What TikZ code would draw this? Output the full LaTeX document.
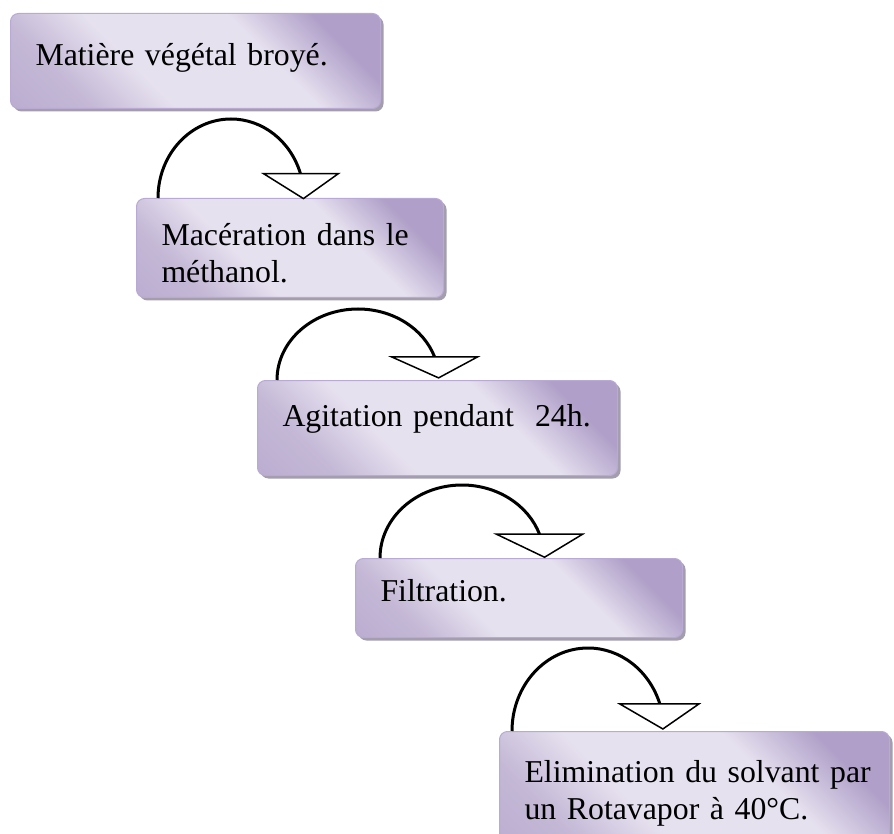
\documentclass[tikz,border=0pt]{standalone}
\usepackage{fontspec}
\setmainfont{Liberation Serif}
\usetikzlibrary{shadows}
\definecolor{boxlight}{RGB}{230,225,239}
\definecolor{boxmid}{RGB}{196,184,214}
\definecolor{boxdark}{RGB}{176,160,201}
\definecolor{boxedge}{RGB}{184,170,210}
\definecolor{boxshade}{RGB}{163,157,174}
\pgfdeclareverticalshading{stepshade}{100bp}{color(0bp)=(boxdark); color(27bp)=(boxmid); color(40bp)=(boxlight); color(62bp)=(boxlight); color(75bp)=(boxdark); color(100bp)=(boxdark)}
\tikzstyle{stepbox} = [draw=boxedge, line width=1pt, rounded corners=8pt, anchor=north west, align=left, inner xsep=25pt, inner ysep=0pt, shade, shading=stepshade, shading angle=-45, general shadow={fill=boxshade, shadow xshift=3pt, shadow yshift=-3pt}, font=\fontsize{31.8pt}{36.6pt}\selectfont]
\tikzstyle{turn} = [line width=3pt]
\tikzstyle{head} = [draw, fill=white, line width=1.5pt, line join=miter]

\begin{document}
\begin{tikzpicture}[x=1pt, y=1pt]
  \useasboundingbox (0,0) rectangle (894,-834);

  \node[stepbox, text width=320pt, text height=52pt, text depth=43pt] (m1) at (10,-13) {Matière végétal broyé.};
  \node[stepbox, text width=257pt, text height=47pt, text depth=52pt] (m2) at (136,-198) {Macération dans le\\méthanol.};
  \node[stepbox, text width=310pt, text height=46pt, text depth=49pt] (m3) at (257,-380) {Agitation pendant~ 24h.};
  \node[stepbox, text width=277pt, text height=43pt, text depth=36pt] (m4) at (355,-558) {Filtration.};
  \node[stepbox, text width=340pt, text height=51pt, text depth=70pt] (m5) at (499,-731) {\mbox{Elimination du solvant par}\\un Rotavapor à 40°C.};

  \draw[turn] ([xshift=22pt]m2.north west) arc[start angle=180, end angle=18, x radius=73pt, y radius=79pt] coordinate (e1);
  \draw[head] ([xshift=-37pt]e1) -- ([xshift=38pt]e1) -- ([xshift=3pt, yshift=-25pt]e1) -- cycle;
  \draw[turn] ([xshift=20pt]m3.north west) arc[start angle=180, end angle=19, x radius=81pt, y radius=71pt] coordinate (e2);
  \draw[head] ([xshift=-43pt]e2) -- ([xshift=43pt]e2) -- ([xshift=4pt, yshift=-21pt]e2) -- cycle;
  \draw[turn] ([xshift=25pt]m4.north west) arc[start angle=180, end angle=19, x radius=82pt, y radius=73pt] coordinate (e3);
  \draw[head] ([xshift=-43pt]e3) -- ([xshift=43pt]e3) -- ([xshift=5pt, yshift=-23pt]e3) -- cycle;
  \draw[turn] ([xshift=13pt]m5.north west) arc[start angle=180, end angle=19, x radius=76pt, y radius=83pt] coordinate (e4);
  \draw[head] ([xshift=-40pt]e4) -- ([xshift=39pt]e4) -- ([xshift=3pt, yshift=-25pt]e4) -- cycle;
\end{tikzpicture}
\end{document}
